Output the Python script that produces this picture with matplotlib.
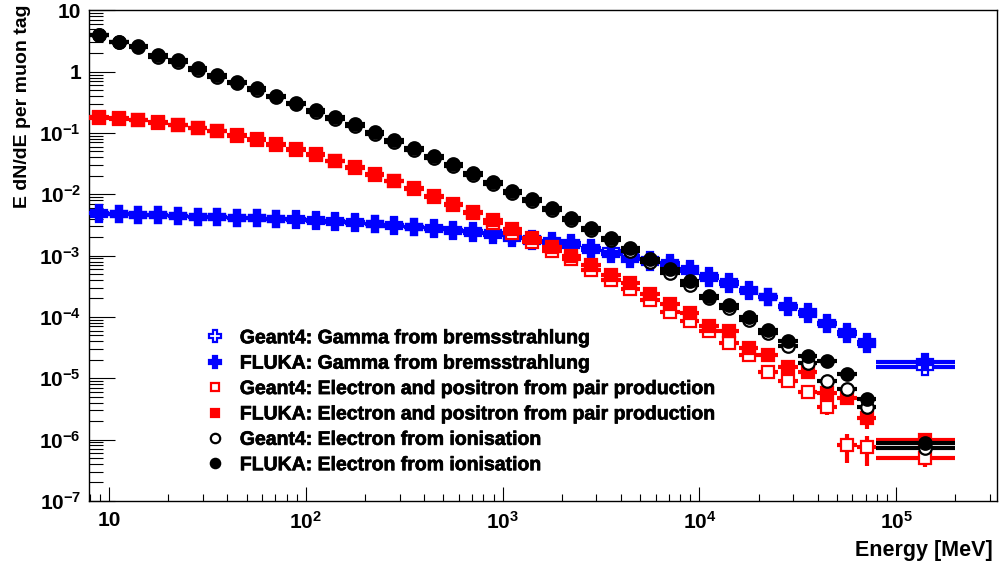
import numpy as np
import matplotlib.pyplot as plt
import matplotlib.patheffects as pe
from matplotlib.lines import Line2D
from matplotlib.ticker import FixedLocator, FixedFormatter, LogLocator, NullFormatter

plt.rcParams['font.family'] = 'Liberation Sans'
plt.rcParams['font.weight'] = 'bold'
plt.rcParams['mathtext.fontset'] = 'custom'
plt.rcParams['mathtext.rm'] = 'Liberation Sans:bold'
plt.rcParams['mathtext.it'] = 'Liberation Sans:bold'
plt.rcParams['mathtext.bf'] = 'Liberation Sans:bold'

# Energy binning: 10 log bins per decade from 10^0.9 MeV, last bin merged up to 10^5.3
edges = np.append(np.logspace(0.9, 4.9, 41), 10**5.3)

# E dN/dE per muon tag, one value per bin (41 bins)
g4_brems = [4.85e-3, 4.70e-3, 4.62e-3, 4.55e-3, 4.45e-3, 4.33e-3, 4.20e-3, 4.15e-3, 4.08e-3, 3.98e-3,
            3.90e-3, 3.75e-3, 3.60e-3, 3.48e-3, 3.30e-3, 3.15e-3, 2.98e-3, 2.80e-3, 2.62e-3, 2.50e-3,
            2.30e-3, 2.05e-3, 1.85e-3, 1.70e-3, 1.60e-3, 1.35e-3, 1.20e-3, 9.8e-4, 8.6e-4, 7.6e-4,
            6.1e-4, 4.6e-4, 3.7e-4, 2.75e-4, 2.1e-4, 1.45e-4, 1.10e-4, 7.6e-5, 5.3e-5, 3.6e-5,
            1.55e-5]
fluka_brems = [4.90e-3, 4.72e-3, 4.60e-3, 4.58e-3, 4.43e-3, 4.31e-3, 4.21e-3, 4.18e-3, 4.06e-3, 3.96e-3,
               3.88e-3, 3.71e-3, 3.57e-3, 3.44e-3, 3.24e-3, 3.08e-3, 2.90e-3, 2.72e-3, 2.52e-3, 2.37e-3,
               2.17e-3, 1.91e-3, 1.73e-3, 1.59e-3, 1.49e-3, 1.23e-3, 1.08e-3, 8.9e-4, 7.9e-4, 7.0e-4,
               5.7e-4, 4.36e-4, 3.47e-4, 2.64e-4, 2.10e-4, 1.53e-4, 1.18e-4, 8.1e-5, 5.7e-5, 3.9e-5,
               1.86e-5]
g4_pair = [0.178, 0.172, 0.161, 0.148, 0.133, 0.120, 0.106, 0.091, 0.0775, 0.0648,
           0.0538, 0.0440, 0.0345, 0.0270, 0.0208, 0.0162, 0.0121, 0.0090, 0.0066, 0.0049,
           3.44e-3, 2.31e-3, 1.65e-3, 1.20e-3, 8.8e-4, 5.82e-4, 4.04e-4, 2.87e-4, 1.90e-4, 1.19e-4,
           8.5e-5, 5.8e-5, 3.70e-5, 2.41e-5, 1.24e-5, 9.0e-6, 5.96e-6, 3.33e-6, 8.1e-7, 7.55e-7,
           5.0e-7]
fluka_pair = [0.180, 0.174, 0.163, 0.150, 0.135, 0.122, 0.108, 0.0927, 0.0789, 0.0661,
              0.0548, 0.0450, 0.0353, 0.0276, 0.0214, 0.0167, 0.01253, 0.00938, 0.00695, 0.00520,
              3.81e-3, 2.72e-3, 1.91e-3, 1.40e-3, 9.96e-4, 7.03e-4, 4.83e-4, 3.53e-4, 2.34e-4, 1.62e-4,
              1.15e-4, 7.1e-5, 5.9e-5, 3.07e-5, 2.39e-5, 1.55e-5, 1.28e-5, 5.7e-6, 4.7e-6, 2.26e-6,
              1.0e-6]
g4_ion = [3.90, 3.00, 2.55, 1.76, 1.45, 1.07, 0.83, 0.645, 0.505, 0.382,
          0.294, 0.223, 0.169, 0.130, 0.098, 0.072, 0.0525, 0.0393, 0.0289, 0.0205,
          0.0150, 0.0105, 0.0077, 0.0056, 3.76e-3, 2.58e-3, 1.80e-3, 1.21e-3, 8.0e-4, 5.2e-4,
          3.3e-4, 2.05e-4, 1.40e-4, 9.0e-5, 5.5e-5, 3.3e-5, 1.79e-5, 9.1e-6, 6.7e-6, 3.4e-6,
          7.2e-7]
fluka_ion = [3.97, 3.02, 2.66, 1.87, 1.55, 1.14, 0.88, 0.687, 0.536, 0.406,
             0.312, 0.237, 0.180, 0.139, 0.105, 0.0769, 0.0562, 0.0421, 0.0309, 0.0220,
             0.0161, 0.0113, 0.00828, 0.00604, 4.06e-3, 2.79e-3, 1.96e-3, 1.31e-3, 8.8e-4, 6.0e-4,
             3.8e-4, 2.2e-4, 1.55e-4, 1.0e-4, 6.2e-5, 4.0e-5, 2.3e-5, 1.9e-5, 1.15e-5, 4.5e-6,
             8.7e-7]

# statistical errors, only the high energy tail is larger than the markers
g4_brems_err = np.zeros(41)
g4_brems_err[-1] = 2.5e-6
fluka_brems_err = np.zeros(41)
fluka_brems_err[-1] = 2.5e-6
g4_pair_err = np.zeros(41)
g4_pair_err[-5:] = [1.4e-6, 8.5e-7, 4.0e-7, 3.9e-7, 1.4e-7]
fluka_pair_err = np.zeros(41)
fluka_pair_err[-2:] = [8.0e-7, 1.0e-7]
g4_ion_err = np.zeros(41)
g4_ion_err[-1] = 1.0e-7
fluka_ion_err = np.zeros(41)
fluka_ion_err[-1] = 1.0e-7

labels = ['Geant4: Gamma from bremsstrahlung',
          'FLUKA: Gamma from bremsstrahlung',
          'Geant4: Electron and positron from pair production',
          'FLUKA: Electron and positron from pair production',
          'Geant4: Electron from ionisation',
          'FLUKA: Electron from ionisation']

lo = edges[:-1]
hi = edges[1:]
x = np.sqrt(lo * hi)
x[-1] = 0.5 * (lo[-1] + hi[-1])

fig = plt.figure(figsize=(10.01, 5.68), dpi=100)
ax = fig.add_axes([0.0892, 0.1183, 0.9065, 0.8634])

# (values, errors, colour, marker, size, hollow)
series = [
    (g4_brems, g4_brems_err, 'blue', 'P', 12.0, True),
    (fluka_brems, fluka_brems_err, 'blue', 'P', 12.0, False),
    (g4_pair, g4_pair_err, 'red', 's', 8.5, True),
    (fluka_pair, fluka_pair_err, 'red', 's', 8.5, False),
    (g4_ion, g4_ion_err, 'black', 'o', 9.0, True),
    (fluka_ion, fluka_ion_err, 'black', 'o', 9.0, False),
]

handles = []
for i, (vals, err, col, mk, ms, hollow) in enumerate(series):
    vals = np.array(vals)
    z = 2 + i
    ax.errorbar(x, vals, xerr=[x - lo, hi - x], yerr=err, fmt='none',
                ecolor=col, elinewidth=3.0, capsize=0, zorder=z)
    face = 'white' if hollow else col
    ax.plot(x, vals, ls='none', marker=mk, ms=ms, mfc=face, mec=col,
            mew=1.6, zorder=z + 0.5)
    handles.append(Line2D([], [], ls='none', marker=mk, ms=ms * 0.75,
                          mfc=face, mec=col, mew=1.6))

ax.set_xscale('log')
ax.set_yscale('log')
ax.set_xlim(10**0.9, 10**5.511)
ax.set_ylim(1e-7, 10)

ax.xaxis.set_major_locator(FixedLocator([10, 1e2, 1e3, 1e4, 1e5]))
ax.xaxis.set_major_formatter(FixedFormatter(['10', '$10^{2}$', '$10^{3}$', '$10^{4}$', '$10^{5}$']))
ax.xaxis.set_minor_locator(LogLocator(base=10, subs=np.arange(2, 10), numticks=20))
ax.xaxis.set_minor_formatter(NullFormatter())

ydec = [1e-7, 1e-6, 1e-5, 1e-4, 1e-3, 1e-2, 1e-1, 1, 10]
ax.yaxis.set_major_locator(FixedLocator(ydec))
ax.yaxis.set_major_formatter(FixedFormatter(['$10^{-7}$', '$10^{-6}$', '$10^{-5}$', '$10^{-4}$',
                                             '$10^{-3}$', '$10^{-2}$', '$10^{-1}$', '1', '10']))
ax.yaxis.set_minor_locator(LogLocator(base=10, subs=np.arange(2, 10), numticks=20))
ax.yaxis.set_minor_formatter(NullFormatter())

ax.tick_params(which='both', direction='in', top=False, right=False, width=0.8,
               labelsize=15)
ax.tick_params(axis='x', which='major', length=10, pad=7)
ax.tick_params(axis='x', which='minor', length=5)
ax.tick_params(axis='y', which='major', length=19, pad=6)
ax.tick_params(axis='y', which='minor', length=10)
for sp in ax.spines.values():
    sp.set_linewidth(1.0)

ax.set_xlabel('Energy [MeV]', fontsize=15.5, fontweight='bold', loc='right')
ax.xaxis.set_label_coords(0.996, -0.08)
ax.set_ylabel('E dN/dE per muon tag', fontsize=14, fontweight='bold', loc='top')
ax.yaxis.set_label_coords(-0.064, 1.011)

leg = ax.legend(handles, labels, loc='upper left', bbox_to_anchor=(0.1284, 0.349),
                frameon=False, fontsize=14,
                handlelength=0.95, handletextpad=0.8,
                labelspacing=0.4, borderpad=0, borderaxespad=0)
for t in leg.get_texts():
    t.set_fontweight('bold')
    t.set_path_effects([pe.withStroke(linewidth=0.5, foreground='black')])

fig.savefig('out.png', dpi=100)
